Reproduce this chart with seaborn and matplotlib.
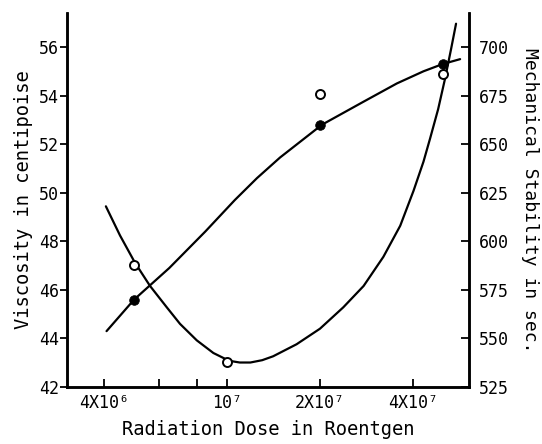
import numpy as np
import pandas as pd
import matplotlib
matplotlib.use("Agg")
import matplotlib.pyplot as plt
import matplotlib.ticker as mticker
import seaborn as sns

visc_dose = [5e6, 2e7, 5e7]
visc_vals = [45.6, 52.8, 55.3]
stab_dose = [5e6, 1e7, 2e7, 5e7]
stab_vals = [588, 538, 676, 686]

# hand drawn curves
visc_curve_dose = [4.07e6, 5.0e6, 6.5e6, 8.5e6, 1.06e7, 1.25e7, 1.485e7,
                   2.03e7, 2.77e7, 3.55e7, 4.33e7, 5.0e7, 5.69e7]
visc_curve_vals = [44.3, 45.6, 46.9, 48.4, 49.7, 50.6, 51.45,
                   52.8, 53.75, 54.5, 55.0, 55.3, 55.5]
stab_curve_dose = [4.05e6, 4.5e6, 5.03e6, 5.63e6, 6.38e6, 7.04e6, 7.98e6,
                   9.03e6, 1.015e7, 1.1e7, 1.19e7, 1.3e7, 1.41e7, 1.68e7,
                   2.0e7, 2.38e7, 2.77e7, 3.21e7, 3.64e7, 4.02e7, 4.33e7,
                   4.55e7, 4.83e7, 5.09e7, 5.32e7, 5.52e7]
stab_curve_vals = [618, 603, 589, 577, 566, 557.5, 549,
                   542.5, 538.5, 537.6, 537.6, 538.8, 540.8, 547,
                   555, 566, 577, 592, 608, 626, 641,
                   653, 668, 684, 699, 712]

x_ticks = [4e6, 1e7, 2e7, 4e7]
x_labels = ["4X10⁶", "10⁷", "2X10⁷", "4X10⁷"]
x_minor = [6e6, 8e6]
visc_ticks = [42, 44, 46, 48, 50, 52, 54, 56]
stab_ticks = [525, 550, 575, 600, 625, 650, 675, 700]

sns.set_style("ticks")
plt.rcParams["font.family"] = ["DejaVu Sans Mono", "DejaVu Sans"]
plt.rcParams["text.color"] = "black"
plt.rcParams["axes.labelcolor"] = "black"
plt.rcParams["xtick.color"] = "black"
plt.rcParams["ytick.color"] = "black"

visc_pts = pd.DataFrame({"dose": visc_dose, "visc": visc_vals})
stab_pts = pd.DataFrame({"dose": stab_dose, "stab": stab_vals})
visc_line = pd.DataFrame({"dose": visc_curve_dose, "visc": visc_curve_vals})
stab_line = pd.DataFrame({"dose": stab_curve_dose, "stab": stab_curve_vals})

fig = plt.figure(figsize=(5.42, 4.44), dpi=100)
ax = fig.add_axes([0.1236, 0.1284, 0.7417, 0.8423])
ax.set_xscale("log")
ax2 = ax.twinx()

sns.lineplot(data=visc_line, x="dose", y="visc", ax=ax, color="black", lw=1.6)
sns.scatterplot(data=visc_pts, x="dose", y="visc", ax=ax, color="black",
                s=48, edgecolor="black", zorder=5)
sns.lineplot(data=stab_line, x="dose", y="stab", ax=ax2, color="black", lw=1.6)
sns.scatterplot(data=stab_pts, x="dose", y="stab", ax=ax2, facecolor="white",
                s=42, edgecolor="black", linewidth=1.4, zorder=5)

ax.set_xlim(3.03e6, 6.08e7)
ax.set_ylim(42, 57.4)
ax2.set_ylim(525, 717.5)

ax.set_xticks(x_ticks)
ax.set_xticklabels(x_labels)
ax.xaxis.set_minor_locator(mticker.FixedLocator(x_minor))
ax.xaxis.set_minor_formatter(mticker.NullFormatter())
ax.set_yticks(visc_ticks)
ax2.set_yticks(stab_ticks)

ax.tick_params(axis="x", which="both", direction="in", length=6, width=1.3,
               labelsize=12, pad=5, colors="black")
ax.tick_params(axis="y", direction="out", length=5, width=1.3,
               labelsize=12, pad=1, colors="black")
ax2.tick_params(axis="y", direction="in", length=6, width=1.3,
                labelsize=12, pad=7, colors="black")

for a in (ax, ax2):
    a.spines["top"].set_visible(False)
    for s in ("left", "right", "bottom"):
        a.spines[s].set_linewidth(1.8)
        a.spines[s].set_color("black")

ax.set_xlabel("Radiation Dose in Roentgen", fontsize=13.5, labelpad=6,
              color="black")
ax.set_ylabel("Viscosity in centipoise", fontsize=13.5, labelpad=4,
              color="black")
ax2.set_ylabel("Mechanical Stability in sec.", fontsize=13, rotation=-90,
               labelpad=22, color="black")

fig.savefig("out.png", dpi=100)
